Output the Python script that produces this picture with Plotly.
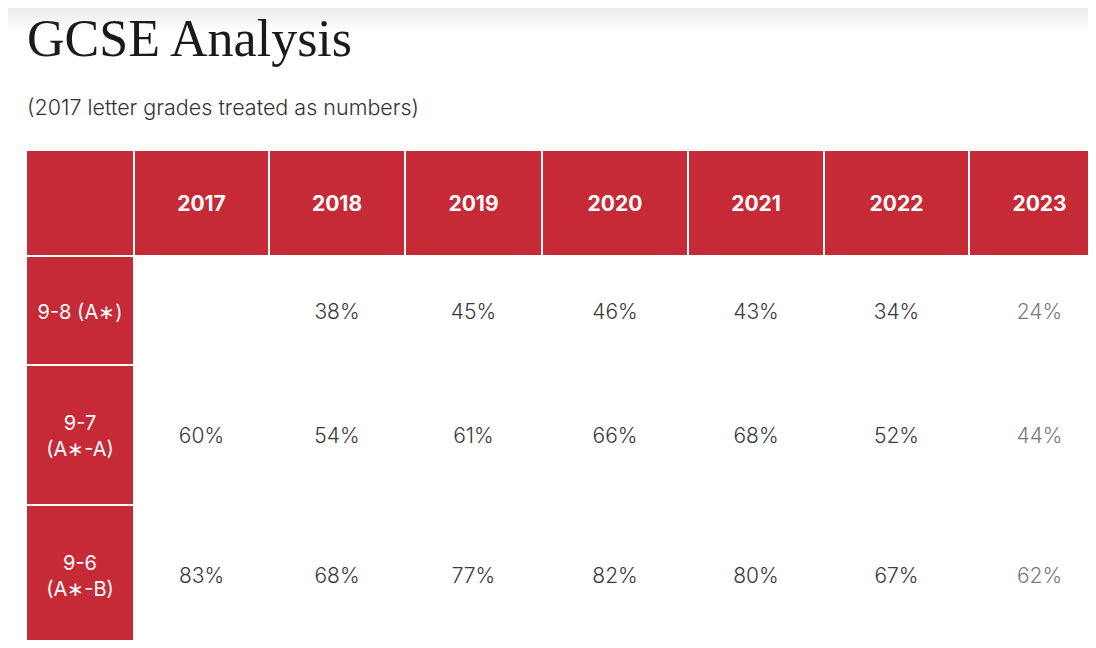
import numpy as np
import plotly.graph_objects as go

# data
years = ["2017", "2018", "2019", "2020", "2021", "2022", "2023"]
grade_bands = ["9-8 (A∗)", "9-7<br>(A∗-A)", "9-6<br>(A∗-B)", ""]
pct_98 = [None, 38, 45, 46, 43, 34, 24]
pct_97 = [60, 54, 61, 66, 68, 52, 44]
pct_96 = [83, 68, 77, 82, 80, 67, 62]
pct_next = [None] * 7  # row below the fold, values not visible

RED = "#c52a36"
TEXT = "#333333"

# page body has an 8px margin, so the figure is made to fit inside it
PAD = 8
W, H = 1096, 648
TEXT_NUDGE = 3  # push cell text down a little to sit like the original

# layout of the grid in page pixels (column / row edges)
col_edges = [26, 134, 269, 405, 542, 688, 824, 969, 1110]
row_edges = [150, 256, 365, 505, 645, 800]

body = [pct_98, pct_97, pct_96, pct_next]
n_rows = len(grade_bands) + 1
n_cols = len(years) + 1

# 1 = red header/label cell, 0 = white body cell
z = np.zeros((n_rows, n_cols))
z[0, :] = 1
z[:, 0] = 1

fig = go.Figure()
fig.add_trace(go.Heatmap(
    x=col_edges, y=row_edges, z=z,
    colorscale=[[0, "white"], [1, RED]],
    showscale=False, xgap=2, ygap=2, hoverinfo="skip",
))

xc = (np.array(col_edges[:-1]) + np.array(col_edges[1:])) / 2
yc = (np.array(row_edges[:-1]) + np.array(row_edges[1:])) / 2 + TEXT_NUDGE

# header years
fig.add_trace(go.Scatter(
    x=xc[1:], y=[yc[0]] * len(years), text=years, mode="text",
    textfont=dict(family="Inter", size=21, color="white", weight=700),
    hoverinfo="skip",
))
# grade band labels
fig.add_trace(go.Scatter(
    x=[xc[0]] * len(grade_bands), y=yc[1:], text=grade_bands, mode="text",
    textfont=dict(family="Inter", size=20, color="white"),
    hoverinfo="skip",
))
# body values (last column drawn lighter)
bx, by, bt, bc = [], [], [], []
for i, row in enumerate(body):
    for j, v in enumerate(row):
        if v is None:
            continue
        bx.append(xc[j + 1])
        by.append(yc[i + 1])
        bt.append(f"{v}%")
        bc.append("#7a7a7a" if j == len(years) - 1 else "#3a3a3a")
fig.add_trace(go.Scatter(
    x=bx, y=by, text=bt, mode="text",
    textfont=dict(family="Inter", size=21, color=bc, weight=300),
    hoverinfo="skip",
))

# soft grey band at the very top of the page
shapes = []
for k in range(12):
    shapes.append(dict(
        type="rect", xref="paper", yref="paper", x0=0, x1=1,
        y0=1 - (k + 1) * 2 / (H - 2 * PAD), y1=1 - k * 2 / (H - 2 * PAD),
        fillcolor="#ececec", opacity=1 - k / 12, line_width=0, layer="below",
    ))

fig.update_layout(
    width=W - 2 * PAD, height=H - 2 * PAD,
    margin=dict(l=0, r=0, t=0, b=0),
    paper_bgcolor="white", plot_bgcolor="white",
    showlegend=False,
    shapes=shapes,
    xaxis=dict(range=[PAD, W - PAD], visible=False, fixedrange=True),
    yaxis=dict(range=[H - PAD, PAD], visible=False, fixedrange=True),
    annotations=[
        dict(text="GCSE Analysis", x=25, y=38, xref="x", yref="y",
             xanchor="left", yanchor="middle", showarrow=False,
             font=dict(family="Liberation Serif", size=52, color="#1a1a1a")),
        dict(text="(2017 letter grades treated as numbers)", x=25, y=107,
             xref="x", yref="y", xanchor="left", yanchor="middle",
             showarrow=False,
             font=dict(family="Inter", size=21.5, color=TEXT, weight=300)),
    ],
)

fig.write_html("out.html")
